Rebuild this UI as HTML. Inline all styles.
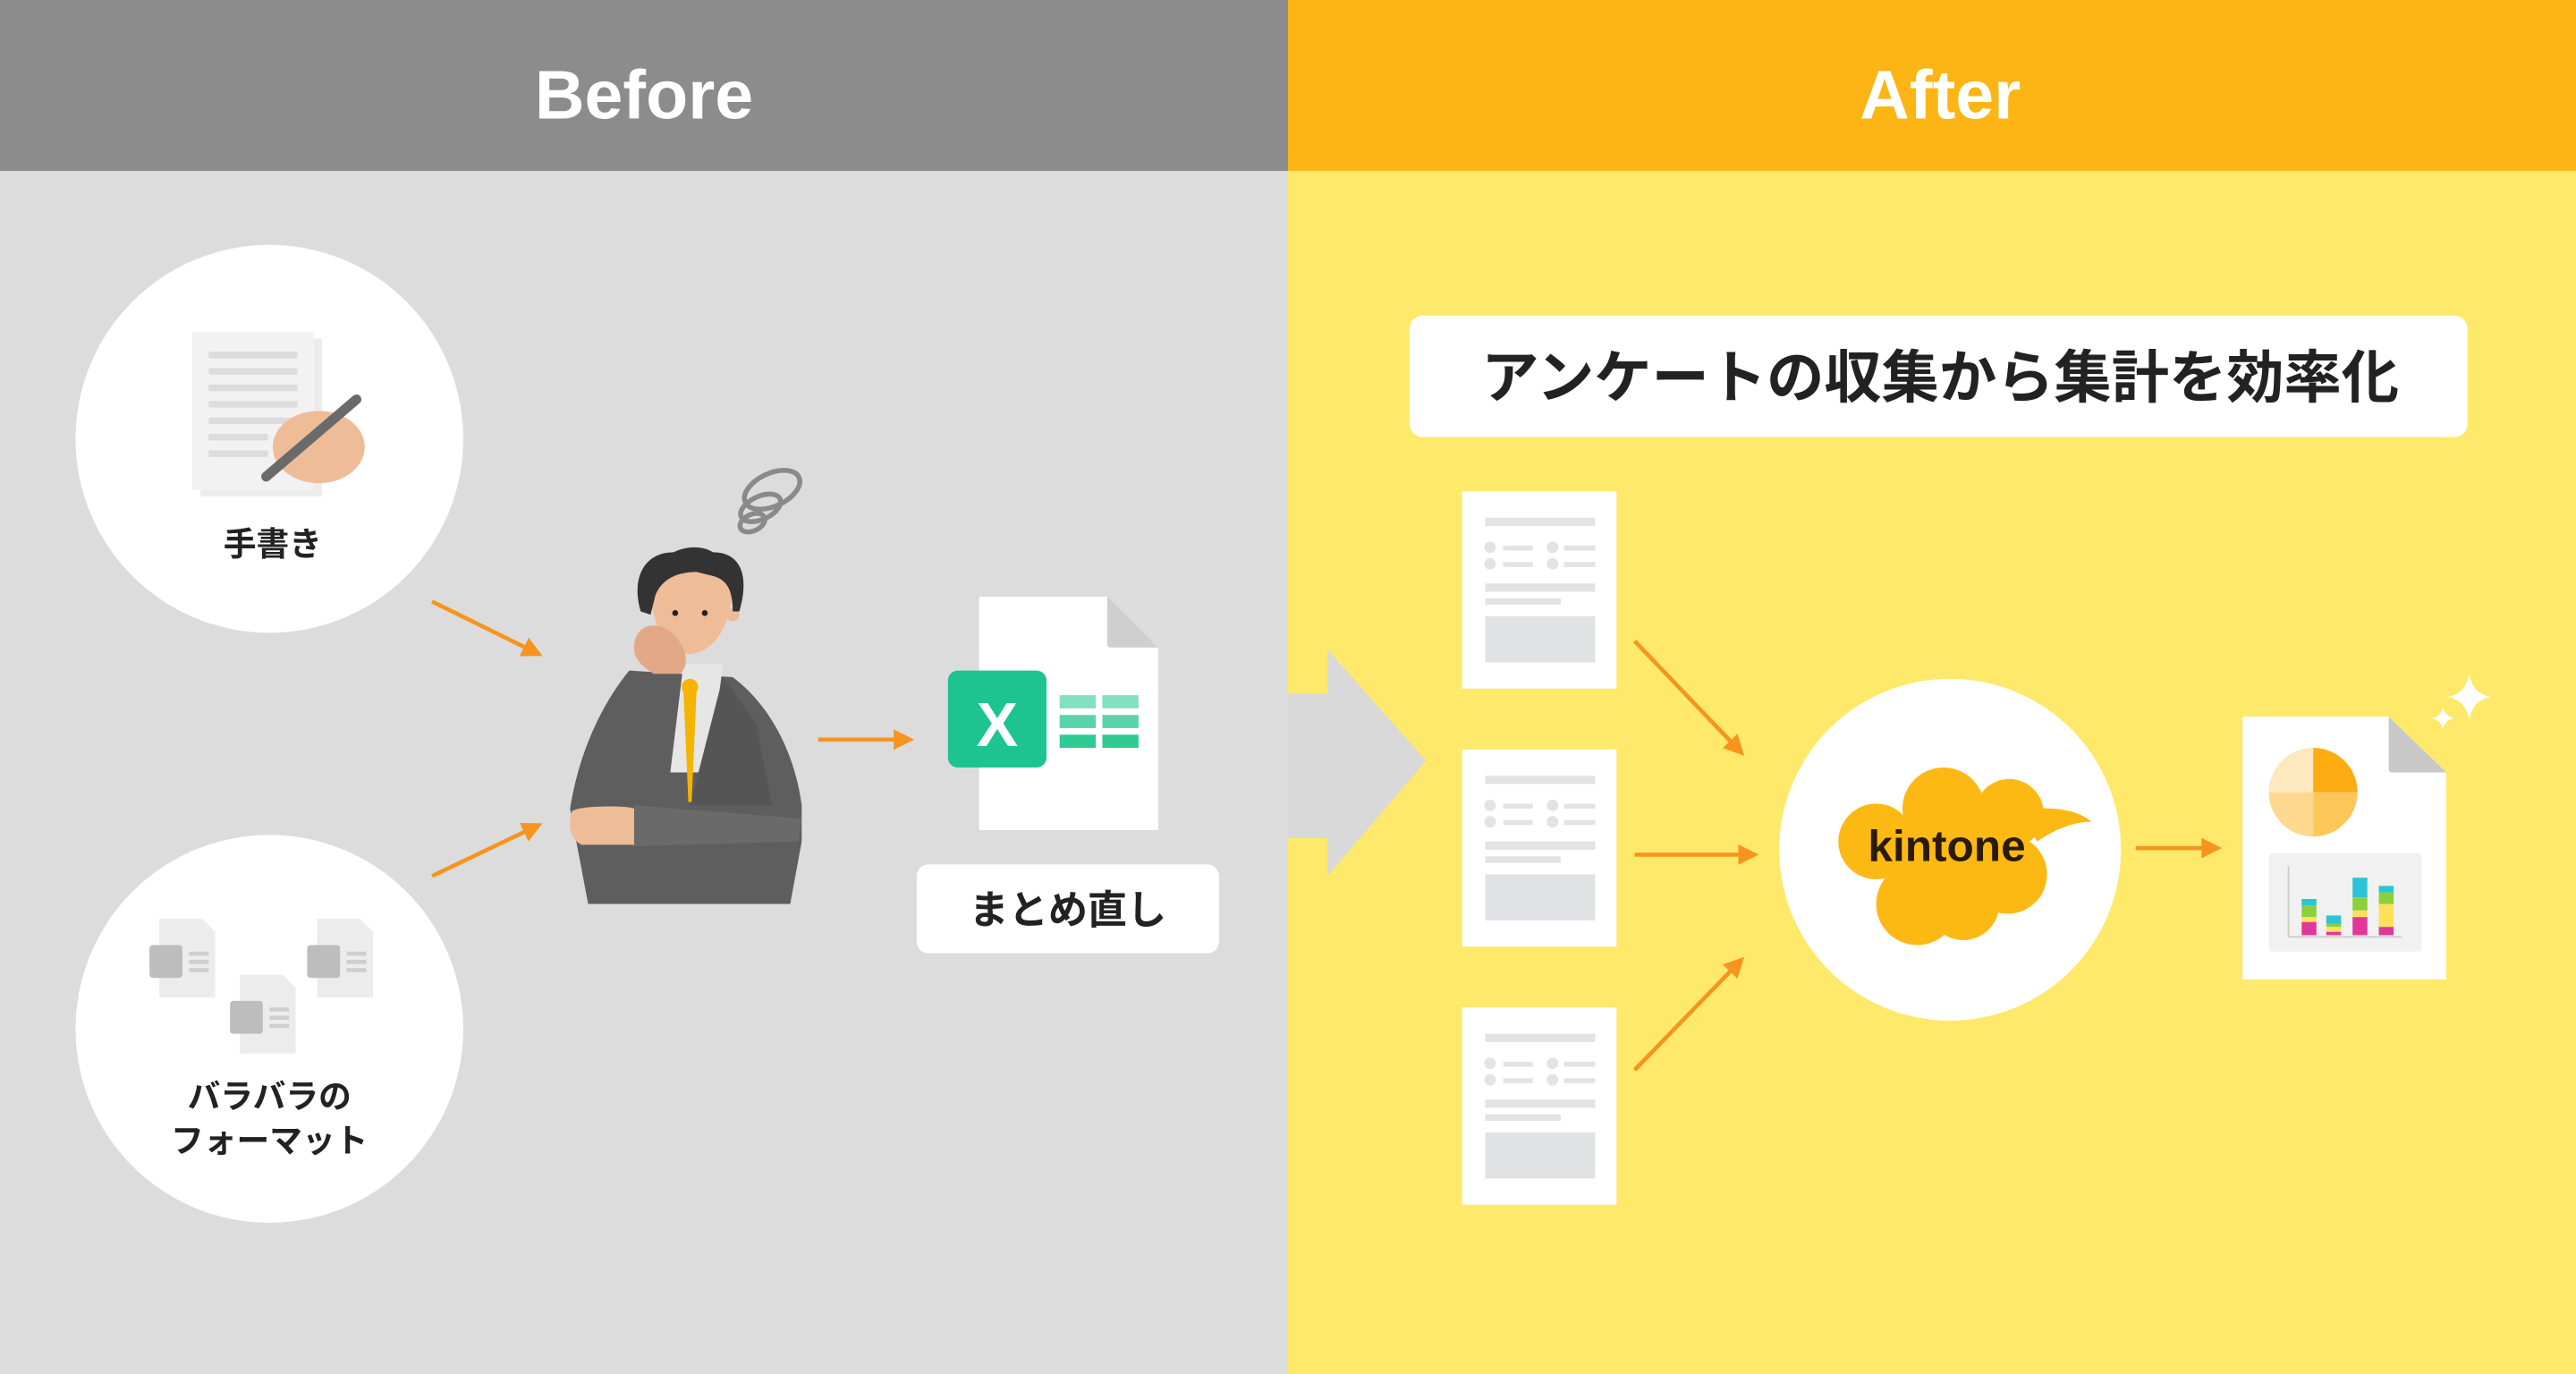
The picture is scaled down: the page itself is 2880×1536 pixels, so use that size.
<!DOCTYPE html>
<html><head><meta charset="utf-8"><style>
html,body{margin:0;padding:0;width:2880px;height:1536px;overflow:hidden}
svg{display:block}
text{font-family:"Liberation Sans","Noto Sans CJK JP",sans-serif;font-weight:bold}
</style></head><body>
<svg width="2880" height="1536" viewBox="0 0 1568 836" preserveAspectRatio="none" xmlns="http://www.w3.org/2000/svg">
<defs>
<marker id="ah" viewBox="0 0 10 10" refX="8" refY="5" markerWidth="5" markerHeight="5" orient="auto"><path d="M0,0 L10,5 L0,10 z" fill="#f7941d"/></marker>
<g id="form">
<rect x="890" y="299" width="94" height="120" fill="#fff"/>
<rect x="904" y="315" width="67" height="5" fill="#e3e3e3"/>
<circle cx="907" cy="333" r="3.5" fill="#e3e3e3"/><rect x="915" y="332" width="18" height="3" fill="#e3e3e3"/>
<circle cx="945" cy="333" r="3.5" fill="#e3e3e3"/><rect x="952" y="332" width="19" height="3" fill="#e3e3e3"/>
<circle cx="907" cy="343" r="3.5" fill="#e3e3e3"/><rect x="915" y="342" width="18" height="3" fill="#e3e3e3"/>
<circle cx="945" cy="343" r="3.5" fill="#e3e3e3"/><rect x="952" y="342" width="19" height="3" fill="#e3e3e3"/>
<rect x="904" y="355" width="67" height="5" fill="#e3e3e3"/>
<rect x="904" y="364" width="46" height="4" fill="#e3e3e3"/>
<rect x="904" y="375" width="67" height="28" fill="#e0e2e4"/>
</g>
<g id="mini">
<path d="M0,0 H26 L34,8 V48 H0 Z" fill="#ececec"/>
<rect x="-6" y="16" width="20" height="20" rx="2" fill="#bdbdbd"/>
<rect x="18" y="20" width="12" height="2.5" fill="#cfcfcf"/><rect x="18" y="25" width="12" height="2.5" fill="#cfcfcf"/><rect x="18" y="30" width="12" height="2.5" fill="#cfcfcf"/>
</g>
</defs>
<rect x="0" y="0" width="784" height="836" fill="#dcdcdc"/>
<rect x="784" y="0" width="784" height="836" fill="#fee96a"/>
<rect x="0" y="0" width="784" height="104" fill="#8c8c8c"/>
<rect x="784" y="0" width="784" height="104" fill="#fdb515"/>
<text x="392" y="72" font-size="42" fill="#fff" text-anchor="middle">Before</text>
<text x="1181" y="72" font-size="42" fill="#fff" text-anchor="middle">After</text>

<circle cx="164" cy="267" r="118" fill="#fff"/>
<circle cx="164" cy="626" r="118" fill="#fff"/>
<rect x="122" y="206" width="74" height="96" fill="#ececec"/>
<rect x="117" y="202" width="74" height="96" fill="#f2f2f2"/>
<g fill="#dcdcdc"><rect x="127" y="214" width="54" height="4"/><rect x="127" y="224" width="54" height="4"/><rect x="127" y="234" width="54" height="4"/><rect x="127" y="244" width="54" height="4"/><rect x="127" y="254" width="54" height="4"/><rect x="127" y="264" width="36" height="4"/><rect x="127" y="274" width="36" height="4"/></g>
<ellipse cx="194" cy="272" rx="28" ry="22" fill="#efbc98"/>
<line x1="217" y1="243" x2="162" y2="290" stroke="#6a6a6a" stroke-width="6" stroke-linecap="round"/>
<text x="166" y="338" font-size="20" fill="#222" text-anchor="middle">手書き</text>
<use href="#mini" x="97" y="559"/>
<use href="#mini" x="193" y="559"/>
<use href="#mini" x="146" y="593"/>
<text x="164" y="674" font-size="20" fill="#222" text-anchor="middle">バラバラの</text>
<text x="164" y="701" font-size="20" fill="#222" text-anchor="middle">フォーマット</text>

<g stroke="#f7941d" stroke-width="2.5" fill="none" marker-end="url(#ah)">
<line x1="263" y1="366" x2="328" y2="398"/>
<line x1="263" y1="533" x2="328" y2="502"/>
<line x1="498" y1="450" x2="554" y2="450"/>
<line x1="995" y1="390" x2="1060" y2="458"/>
<line x1="995" y1="520" x2="1068" y2="520"/>
<line x1="995" y1="651" x2="1060" y2="584"/>
<line x1="1300" y1="516" x2="1350" y2="516"/>
</g>

<!-- spiral -->
<g stroke="#8a8a8a" stroke-width="3" fill="none">
<ellipse cx="470" cy="298" rx="18" ry="10" transform="rotate(-25 470 298)"/>
<ellipse cx="463" cy="309" rx="13" ry="7" transform="rotate(-25 463 309)"/>
<ellipse cx="458" cy="318" rx="8" ry="5" transform="rotate(-25 458 318)"/>
</g>
<!-- person -->
<rect x="358" y="512" width="123" height="38" fill="#555"/>
<path d="M383,408 L446,412 C470,430 484,460 488,490 L488,512 L481,550 L358,550 L347,492 C352,460 365,430 383,408 Z" fill="#5e5e5e"/>
<path d="M416,404 L440,404 L432,470 L408,470 Z" fill="#e6e6e6"/>
<path d="M440,412 L460,440 L470,490 L420,490 Z" fill="#555"/>
<circle cx="420" cy="418" r="5" fill="#f5b400"/>
<path d="M416,420 L424,420 L421,488 L419,488 Z" fill="#f5b400"/>
<path d="M386,490 L488,498 L486,512 L385,515 Z" fill="#6a6a6a"/>
<path d="M348,494 C350,490 382,490 386,492 L386,514 L354,514 C346,510 346,500 348,494 Z" fill="#efbc98"/>
<path d="M395,345 Q395,395 420,398 Q446,395 447,345 Z" fill="#efbc98"/>
<circle cx="446" cy="374" r="4" fill="#efbc98"/>
<path d="M390,372 C384,352 392,336 410,336 C418,332 428,332 434,336 C452,336 456,352 450,372 L446,372 C446,358 442,352 432,350 L424,348 C416,348 404,350 399,362 L396,374 Z" fill="#333"/>
<circle cx="411" cy="373" r="1.8" fill="#222"/><circle cx="429" cy="373" r="1.8" fill="#222"/>
<path d="M386,392 C388,378 402,378 410,386 C418,394 420,405 414,410 L398,410 C390,405 385,400 386,392 Z" fill="#e3a987"/>

<path d="M596,363 H674 L705,394 V505 H596 Z" fill="#fff"/>
<path d="M674,363 L705,394 H676 Q674,394 674,392 Z" fill="#cfcfcf"/>
<rect x="577" y="408" width="60" height="59" rx="6" fill="#1dc48f"/>
<text x="607" y="454" font-size="38" fill="#fff" text-anchor="middle" font-weight="normal">X</text>
<g fill="#2fc994"><rect x="645" y="423" width="22" height="8" opacity=".6"/><rect x="671" y="423" width="22" height="8" opacity=".6"/><rect x="645" y="435" width="22" height="8" opacity=".8"/><rect x="671" y="435" width="22" height="8" opacity=".8"/><rect x="645" y="447" width="22" height="8"/><rect x="671" y="447" width="22" height="8"/></g>
<rect x="558" y="526" width="184" height="54" rx="7" fill="#fff"/>
<text x="650" y="562" font-size="24" fill="#222" text-anchor="middle">まとめ直し</text>

<path d="M784,422 H808 V395 L868,463 L808,533 V510 H784 Z" fill="#d9d9d9"/>

<rect x="858" y="192" width="644" height="74" rx="8" fill="#fff"/>
<text x="1181" y="242" font-size="35" fill="#222" text-anchor="middle">アンケートの収集から集計を効率化</text>

<use href="#form"/>
<use href="#form" y="157"/>
<use href="#form" y="314"/>

<ellipse cx="1187" cy="517" rx="104" ry="104" fill="#fff"/>
<g fill="#fdb913">
<circle cx="1142" cy="512" r="23"/><circle cx="1183" cy="492" r="25"/><circle cx="1223" cy="495" r="21"/><circle cx="1222" cy="532" r="24"/><circle cx="1167" cy="550" r="25"/><circle cx="1195" cy="550" r="22"/><circle cx="1185" cy="520" r="30"/>
<path d="M1230,493 C1250,490 1265,493 1273,500 C1262,500 1250,505 1240,512 Z"/>
</g>
<text x="1185" y="524" font-size="27" fill="#2a1a0a" text-anchor="middle">kintone</text>

<path d="M1365,436 H1454 L1489,470 V596 H1365 Z" fill="#fff"/>
<path d="M1454,436 L1489,470 H1456 Q1454,470 1454,468 Z" fill="#c8c8c8"/>
<path d="M1408,482 V455 A27,27 0 0 1 1435,482 Z" fill="#fdac12"/>
<path d="M1408,482 H1435 A27,27 0 0 1 1408,509 Z" fill="#fdc75a"/>
<path d="M1408,482 V509 A27,27 0 0 1 1381,482 Z" fill="#fed88f"/>
<path d="M1408,482 H1381 A27,27 0 0 1 1408,455 Z" fill="#fee8bf"/>
<rect x="1381" y="519" width="93" height="60" rx="2" fill="#f1f1f1"/>
<line x1="1393" y1="527" x2="1393" y2="570" stroke="#ccc" stroke-width="1"/>
<line x1="1393" y1="570" x2="1462" y2="570" stroke="#ccc" stroke-width="1"/>
<rect x="1401" y="547" width="9" height="4" fill="#2bc4d6"/><rect x="1401" y="551" width="9" height="7" fill="#8ccf3c"/><rect x="1401" y="558" width="9" height="3" fill="#fde15a"/><rect x="1401" y="561" width="9" height="8" fill="#e3369a"/>
<rect x="1416" y="557" width="9" height="5" fill="#2bc4d6"/><rect x="1416" y="562" width="9" height="2" fill="#8ccf3c"/><rect x="1416" y="564" width="9" height="3" fill="#fde15a"/><rect x="1416" y="567" width="9" height="2" fill="#e3369a"/>
<rect x="1432" y="534" width="9" height="12" fill="#2bc4d6"/><rect x="1432" y="546" width="9" height="8" fill="#8ccf3c"/><rect x="1432" y="554" width="9" height="4" fill="#fde15a"/><rect x="1432" y="558" width="9" height="11" fill="#e3369a"/>
<rect x="1448" y="539" width="9" height="4" fill="#2bc4d6"/><rect x="1448" y="543" width="9" height="7" fill="#8ccf3c"/><rect x="1448" y="550" width="9" height="14" fill="#fde15a"/><rect x="1448" y="564" width="9" height="5" fill="#e3369a"/>
<path d="M1503,410 Q1505,422 1516,424 Q1505,426 1503,438 Q1501,426 1490,424 Q1501,422 1503,410 Z" fill="#fff"/>
<path d="M1487,430 Q1488,436 1494,437 Q1488,438 1487,444 Q1486,438 1480,437 Q1486,436 1487,430 Z" fill="#fff"/>
</svg>
</body></html>
